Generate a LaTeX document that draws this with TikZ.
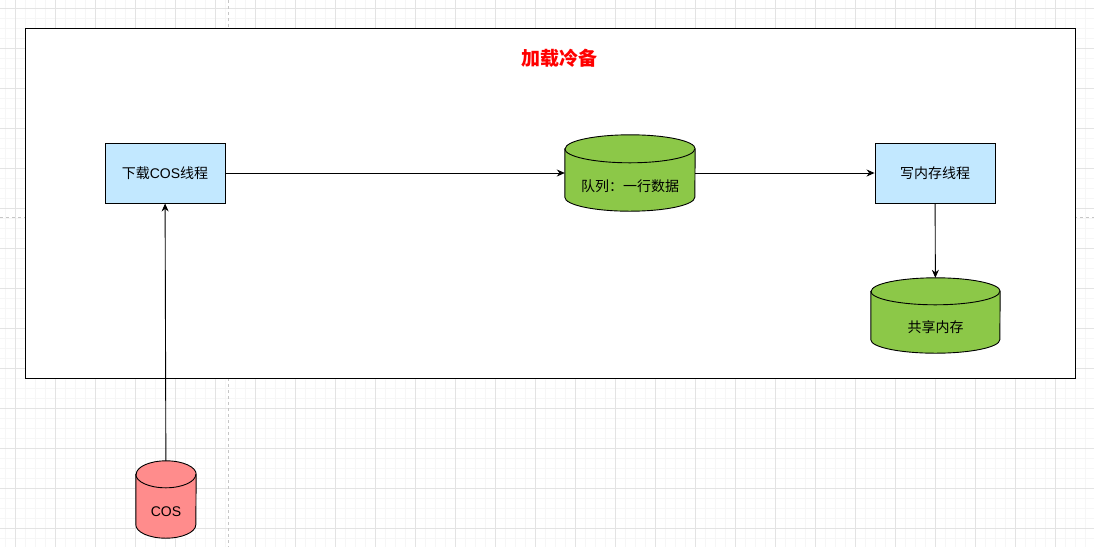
\documentclass[tikz,border=0pt]{standalone}
\usepackage{fontspec}
\setmainfont{Liberation Sans}
\newfontfamily\cjk{Noto Sans CJK SC}
\usetikzlibrary{arrows.meta,backgrounds}

\definecolor{threadBlue}{RGB}{194,232,255}
\definecolor{queueGreen}{RGB}{140,200,72}
\definecolor{cosRed}{RGB}{255,140,140}

\begin{document}
\begin{tikzpicture}
[x=1pt,y=-1pt,
  flowArrow/.style={-{Stealth[length=8pt,width=7pt]},line width=0.9pt},%
  threadBox/.style={shape=rectangle,draw,line width=0.9pt,fill=threadBlue,
    minimum width=120pt,minimum height=60pt,inner sep=0pt,
    font=\fontsize{14}{16}\selectfont},%
  storeCyl/.style={shape=rectangle,inner sep=0pt,text height=38pt,text depth=2pt,
    font=\fontsize{14}{16}\selectfont},%
  gridMinor/.style={color=gray!7,line width=0.6pt},%
  gridMajor/.style={color=gray!22,line width=0.6pt}]
\useasboundingbox (0,0) rectangle (1094,547);
\begin{pgfonlayer}{background}
\fill[white] (0,0) rectangle (1094,547);
%% background grid
\foreach \x in {5,15,...,1094}
  \draw[gridMinor] (\x,0) -- (\x,547);
\foreach \y in {8,18,...,547}
  \draw[gridMinor] (0,\y) -- (1094,\y);
\foreach \x in {15,55,...,1094}
  \draw[gridMajor] (\x,0) -- (\x,547);
\foreach \y in {8,48,...,547}
  \draw[gridMajor] (0,\y) -- (1094,\y);
\draw[gray!45,dashed,line width=0.6pt] (228,0) -- (228,547);
\draw[gray!45,dashed,line width=0.6pt] (0,217) -- (1094,217);
%% container
\node (frame) at (550,203) [draw,fill=white,line width=0.9pt,
  minimum width=1050pt,minimum height=350pt,inner sep=0pt] {};
\end{pgfonlayer}
\node (title) at (559,58) [text=red,font=\fontsize{19}{22}\selectfont\bfseries\cjk] {加载冷备};
%% nodes
\node (download) at (165,173) [threadBox] {{\cjk 下载}COS{\cjk 线程}};
\node (queue) at (630,173) [storeCyl,minimum width=130pt,minimum height=76pt] {\cjk 队列：一行数据};
\node (writer) at (935,173) [threadBox] {\cjk 写内存线程};
\node (shm) at (935.5,315.5) [storeCyl,minimum width=129pt,minimum height=75pt,text height=36pt] {\cjk 共享内存};
\node (cos) at (166,499.5) [storeCyl,minimum width=60pt,minimum height=77pt,text height=35pt] {COS};
%% cylinders behind the store nodes
\begin{pgfonlayer}{background}
\foreach \cyl/\col/\rx/\ry in {queue/queueGreen/65/14, shm/queueGreen/64.5/13.5, cos/cosRed/30/13.5}
{
  \draw[line width=0.9pt,fill=\col] ([yshift=-\ry pt]\cyl.north west) -- ([yshift=\ry pt]\cyl.south west)
    arc[start angle=180,end angle=360,x radius=\rx pt,y radius=\ry pt]
    -- ([yshift=-\ry pt]\cyl.north east)
    arc[start angle=0,end angle=180,x radius=\rx pt,y radius=\ry pt] -- cycle;
  \draw[line width=0.9pt] ([yshift=-\ry pt]\cyl.north west)
    arc[start angle=180,end angle=360,x radius=\rx pt,y radius=\ry pt];
}
\end{pgfonlayer}
%% edges
\path
\foreach \startnode/\endnode in {download/queue, queue/writer}
{
  (\startnode.east) edge[flowArrow] (\endnode.west)
}
\foreach \startnode/\endnode in {writer/shm, cos/download}
{
  (\startnode) edge[flowArrow] (\endnode)
};
\end{tikzpicture}
\end{document}
